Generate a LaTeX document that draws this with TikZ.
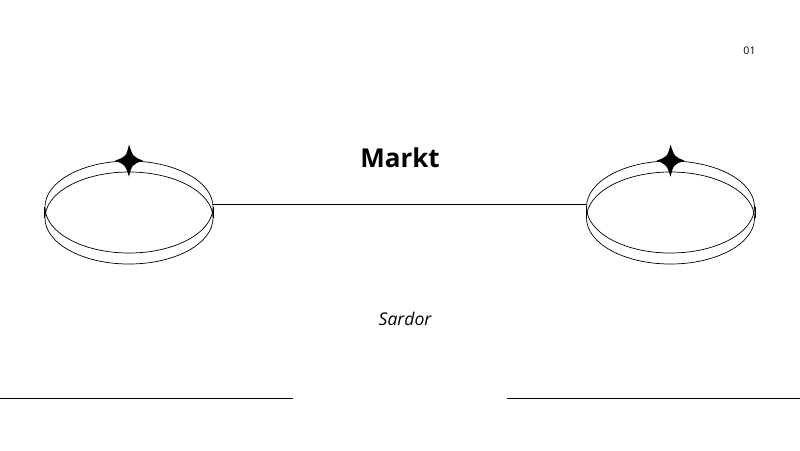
\documentclass[tikz,border=0pt]{standalone}
\usepackage{fontspec}
\setmainfont{Open Sans}
\usetikzlibrary{shapes.geometric, positioning}

\begin{document}
\begin{tikzpicture}[
	x=0.025cm, y=-0.025cm,
	ring/.style = {ellipse, draw, line width=0.5pt, inner sep=0pt, minimum width=4.2cm, minimum height=2.3cm},
	spark/.style = {fill=black},
	rule/.style = {draw, line width=0.5pt}
	]
	\useasboundingbox (0,0) rectangle (800,450);
	
	% Nodes
	\node [ring] (lefttop) at (129,207) {};
	\node [ring] (leftbot) at (129,218) {};
	\node [ring] (righttop) at (670.5,207) {};
	\node [ring] (rightbot) at (670.5,218) {};
	\node [font=\bfseries\fontsize{18.5}{20}\selectfont] (title) at (400,158) {Markt};
	\node [font=\itshape\fontsize{12.5}{14}\selectfont] (name) at (405,319) {Sardor};
	\node [font=\fontsize{7.5}{9}\selectfont] (page) at (749.5,51) {01};
	
	% Sparkles
	\foreach \s in {lefttop, righttop} {
		\path [spark] (\s.north) ++(0,-16) .. controls +(4,12) .. ++(14,16)
			.. controls +(-11,4) .. ++(-14,16) .. controls +(-4,-12) .. ++(-14,-16)
			.. controls +(11,-4) .. cycle;
	}
	
	% Lines
	\coordinate (bl) at (0,398);
	\coordinate (br) at (800,398);
	\path [rule] ([yshift=0.075cm]lefttop.east) -- ([yshift=0.075cm]righttop.west);
	\path [rule] (bl) -- ++(293,0);
	\path [rule] (br) -- ++(-293,0);
	\path [rule] (lefttop.west) -- (leftbot.west);
	\path [rule] (lefttop.east) -- (leftbot.east);
	\path [rule] (righttop.west) -- (rightbot.west);
	\path [rule] (righttop.east) -- (rightbot.east);
\end{tikzpicture}
\end{document}
